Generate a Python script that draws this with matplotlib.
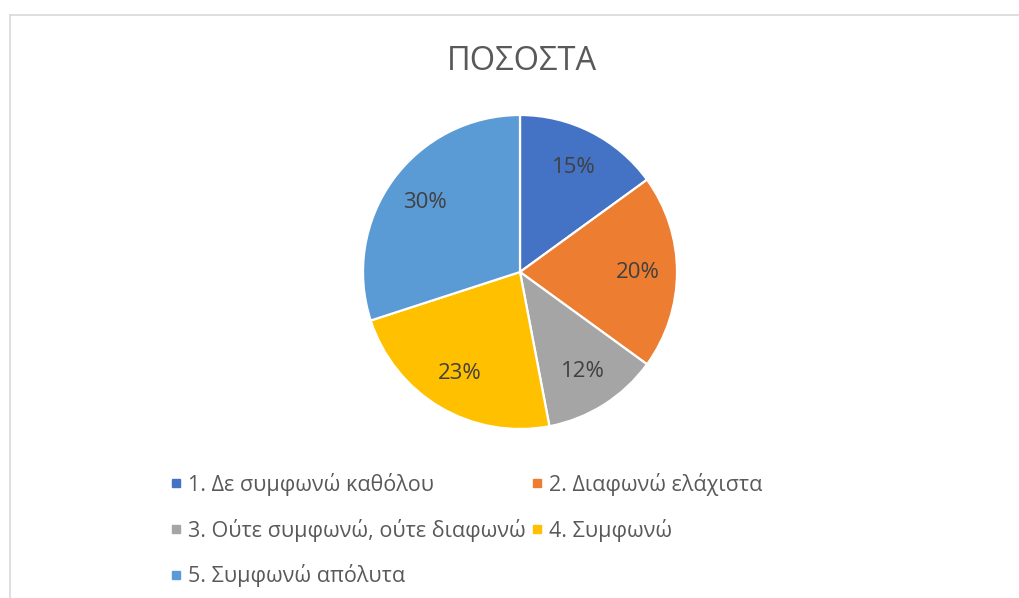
import matplotlib
matplotlib.use("Agg")
import matplotlib.pyplot as plt
from matplotlib.lines import Line2D

plt.rcParams['font.family'] = ['Open Sans', 'DejaVu Sans']

title = "ΠΟΣΟΣΤΑ"
categories = ["1. Δε συμφωνώ καθόλου", "2. Διαφωνώ ελάχιστα",
              "3. Ούτε συμφωνώ, ούτε διαφωνώ", "4. Συμφωνώ",
              "5. Συμφωνώ απόλυτα"]
values = [15, 20, 12, 23, 30]
colors = ["#4472C4", "#ED7D31", "#A5A5A5", "#FFC000", "#5B9BD5"]

W, H = 1020, 598
fig = plt.figure(figsize=(W / 100, H / 100), dpi=100)

# border
fig.add_artist(Line2D([10 / W, 1], [1 - 15 / H, 1 - 15 / H], color="#d9d9d9", lw=1.2))
fig.add_artist(Line2D([10 / W, 10 / W], [0, 1 - 15 / H], color="#d9d9d9", lw=1.2))

cx, cy, r = 520, 272, 157
ax = fig.add_axes([(cx - r) / W, 1 - (cy + r) / H, 2 * r / W, 2 * r / H])
wedges, texts, autotexts = ax.pie(
    values, colors=colors, startangle=90, counterclock=False,
    autopct=lambda p: f"{p:.0f}%", pctdistance=0.75,
    wedgeprops=dict(edgecolor="white", linewidth=1.6),
    textprops=dict(fontsize=16, color="#404040"))
ax.set_xlim(-1, 1)
ax.set_ylim(-1, 1)
ax.set_aspect("equal")

fig.text(522 / W, 1 - 62 / H, title, ha="center", va="center",
         fontsize=23.5, color="#595959")

handles = [Line2D([], [], marker="s", linestyle="none", markersize=5.8,
                  markerfacecolor=c, markeredgecolor=c) for c in colors]
order = [0, 2, 4, 1, 3]
leg = fig.legend([handles[i] for i in order], [categories[i] for i in order],
                 ncol=2, frameon=False, loc="upper left",
                 bbox_to_anchor=(171 / W, 1 - 473 / H),
                 fontsize=15.5, labelcolor="#595959",
                 handlelength=0.5, handletextpad=0.3,
                 labelspacing=1.05, columnspacing=0.25, borderaxespad=0,
                 borderpad=0)

fig.savefig("out.png", dpi=100, facecolor="white")
